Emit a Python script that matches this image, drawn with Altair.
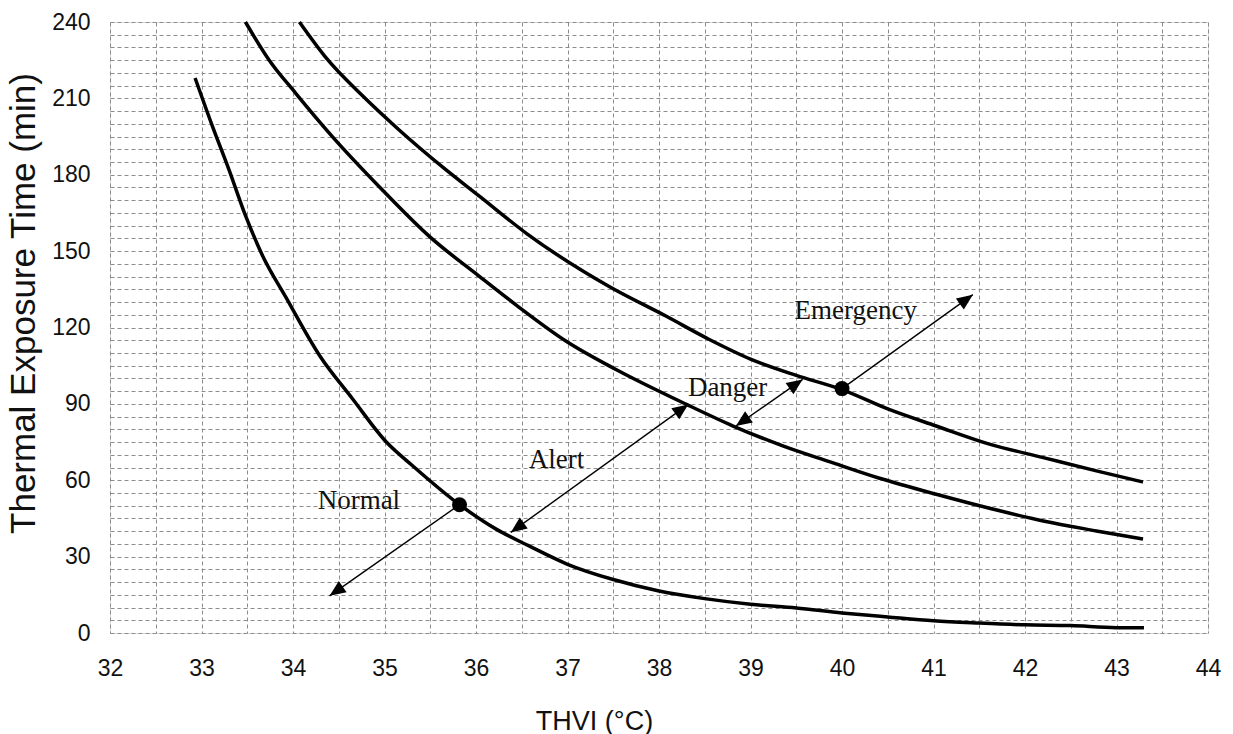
import math
import altair as alt
import pandas as pd

# ---- data ----
normal_x = [32.93, 33.12, 33.30, 33.48, 33.67, 33.92, 34.29, 34.65, 35.02, 35.31, 35.82, 36.22, 36.58,
            37.0, 37.5, 38.0, 38.5, 39.0, 39.5, 40.0, 40.5, 41.0, 41.5, 42.0, 42.5, 43.0, 43.3]
normal_y = [218, 199, 182, 164, 148, 132, 109, 92, 75, 65.6, 50.4, 40.8, 34.2,
            27, 21, 16.5, 13.5, 11.3, 9.8, 7.9, 6.3, 4.8, 3.9, 3.2, 2.9, 2.1, 2.1]

alert_x = [33.48, 33.74, 34.03, 34.43, 34.94, 35.49, 36.04, 36.44, 36.99, 37.53, 38.30, 38.81,
           39.36, 39.87, 40.41, 41.03, 41.69, 42.20, 42.78, 43.29]
alert_y = [240, 225, 212, 195, 175.4, 155.8, 140, 128.8, 114.5, 103.5, 89.8, 81.3,
           73.4, 67.2, 60.8, 54.5, 48.3, 44, 40.1, 36.9]

emerg_x = [34.07, 34.36, 34.76, 35.16, 35.67, 36.04, 36.55, 37.46, 38.08, 38.55, 39.0, 39.5, 40.0,
           40.5, 41.03, 41.62, 42.2, 42.78, 43.29]
emerg_y = [240, 226, 211, 197.6, 182, 171.5, 157, 136, 124.4, 115.3, 107.6, 101.2, 95.6,
           88.0, 81.3, 74.1, 68.9, 63.7, 59.3]

dot_x = [35.82, 40.0]
dot_y = [50.4, 96.0]

arrow_x0 = [35.82, 36.38, 38.84, 40.0]
arrow_y0 = [50.4, 39.5, 81.3, 96.0]
arrow_x1 = [34.40, 38.32, 39.57, 41.43]
arrow_y1 = [14.6, 89.8, 99.6, 132.9]
arrow_both = [False, True, True, False]

label_text = ["Normal", "Alert", "Danger", "Emergency"]
label_x = [34.72, 36.88, 38.75, 40.15]
label_y = [51.9, 67.8, 96.3, 126.4]

x_grid = [32 + 0.5 * i for i in range(25)]
y_grid = list(range(0, 241, 5))

# ---- layout ----
W, H = 1098, 611
XMIN, XMAX, YMIN, YMAX = 32, 44, 0, 240
sx = W / (XMAX - XMIN)
sy = H / (YMAX - YMIN)
HEAD_HALF = 8  # px from symbol center to tip

curves = pd.concat([
    pd.DataFrame({"x": normal_x, "y": normal_y, "s": "normal"}),
    pd.DataFrame({"x": alert_x, "y": alert_y, "s": "alert"}),
    pd.DataFrame({"x": emerg_x, "y": emerg_y, "s": "emergency"}),
])

segs = pd.DataFrame({"x": arrow_x0, "y": arrow_y0, "x2": arrow_x1, "y2": arrow_y1})

heads = []
def add_head(xa, ya, xb, yb):
    # head located at (xb, yb), pointing from a to b
    dxp = (xb - xa) * sx
    dyp = -(yb - ya) * sy  # screen
    L = math.hypot(dxp, dyp)
    ux, uy = dxp / L, dyp / L
    ang = math.degrees(math.atan2(dxp, -dyp)) % 360
    cx = xb - HEAD_HALF * ux / sx
    cy = yb + HEAD_HALF * uy / sy
    heads.append({"x": cx, "y": cy, "a": ang})

for x0, y0, x1, y1, both in zip(arrow_x0, arrow_y0, arrow_x1, arrow_y1, arrow_both):
    add_head(x0, y0, x1, y1)
    if both:
        add_head(x1, y1, x0, y0)
heads = pd.DataFrame(heads)

dots = pd.DataFrame({"x": dot_x, "y": dot_y})
labels = pd.DataFrame({"x": label_x, "y": label_y, "t": label_text})

xscale = alt.Scale(domain=[XMIN, XMAX], nice=False, zero=False)
yscale = alt.Scale(domain=[YMIN, YMAX], nice=False, zero=False)

xaxis = alt.Axis(
    values=x_grid, tickCount=200,
    labelExpr="datum.value % 1 == 0 ? format(datum.value, 'd') : ''",
    title="THVI (°C)",
    grid=True, gridDash=[4, 3], gridColor="#8c8c8c", gridWidth=1,
    ticks=False, domain=False,
    labelFont="Liberation Sans", labelFontSize=23, labelColor="#111",
    labelPadding=24, labelFlush=False, labelOverlap=False,
    titleFont="Liberation Sans", titleFontSize=27, titleFontWeight="normal", titleColor="#111",
    titleX=484, titleY=88, titleBaseline="middle", titleAlign="center",
)
yaxis = alt.Axis(
    values=y_grid, tickCount=200,
    labelExpr="datum.value % 30 == 0 ? format(datum.value, 'd') : ''",
    title="Thermal Exposure Time (min)",
    grid=True, gridDash=[4, 3], gridColor="#8c8c8c", gridWidth=1,
    ticks=False, domain=False,
    labelFont="Liberation Sans", labelFontSize=23, labelColor="#111",
    labelPadding=20, labelFlush=False, labelOverlap=False,
    titleFont="Liberation Sans", titleFontSize=35, titleFontWeight="normal", titleColor="#111",
    titleX=-87, titleY=281, titleBaseline="middle", titleAlign="center",
)

base_curve = alt.Chart(curves).mark_line(color="black", strokeWidth=3.5, interpolate="monotone").encode(
    x=alt.X("x:Q", scale=xscale, axis=xaxis),
    y=alt.Y("y:Q", scale=yscale, axis=yaxis),
    detail="s:N",
)

seg_layer = alt.Chart(segs).mark_rule(color="black", strokeWidth=1.4).encode(
    x="x:Q", y="y:Q", x2="x2:Q", y2="y2:Q"
)

head_layer = alt.Chart(heads).mark_point(
    shape="M0,-1L0.85,1L-0.85,1Z", filled=True, color="black", opacity=1, size=256
).encode(x="x:Q", y="y:Q", angle=alt.Angle("a:Q", scale=None))

dot_layer = alt.Chart(dots).mark_circle(color="black", opacity=1, size=225).encode(x="x:Q", y="y:Q")

label_layer = alt.Chart(labels).mark_text(
    font="Liberation Serif", fontSize=27, color="#111", align="center", baseline="middle"
).encode(x="x:Q", y="y:Q", text="t:N")

chart = alt.layer(base_curve, seg_layer, head_layer, dot_layer, label_layer).properties(
    width=W, height=H,
    autosize=alt.AutoSizeParams(type="none"),
    padding={"left": 110, "top": 22, "right": 25, "bottom": 101},
).configure_view(stroke="#555", strokeWidth=2).configure(background="white")

chart.save("out.html", embed_options={"renderer": "svg", "actions": False})
